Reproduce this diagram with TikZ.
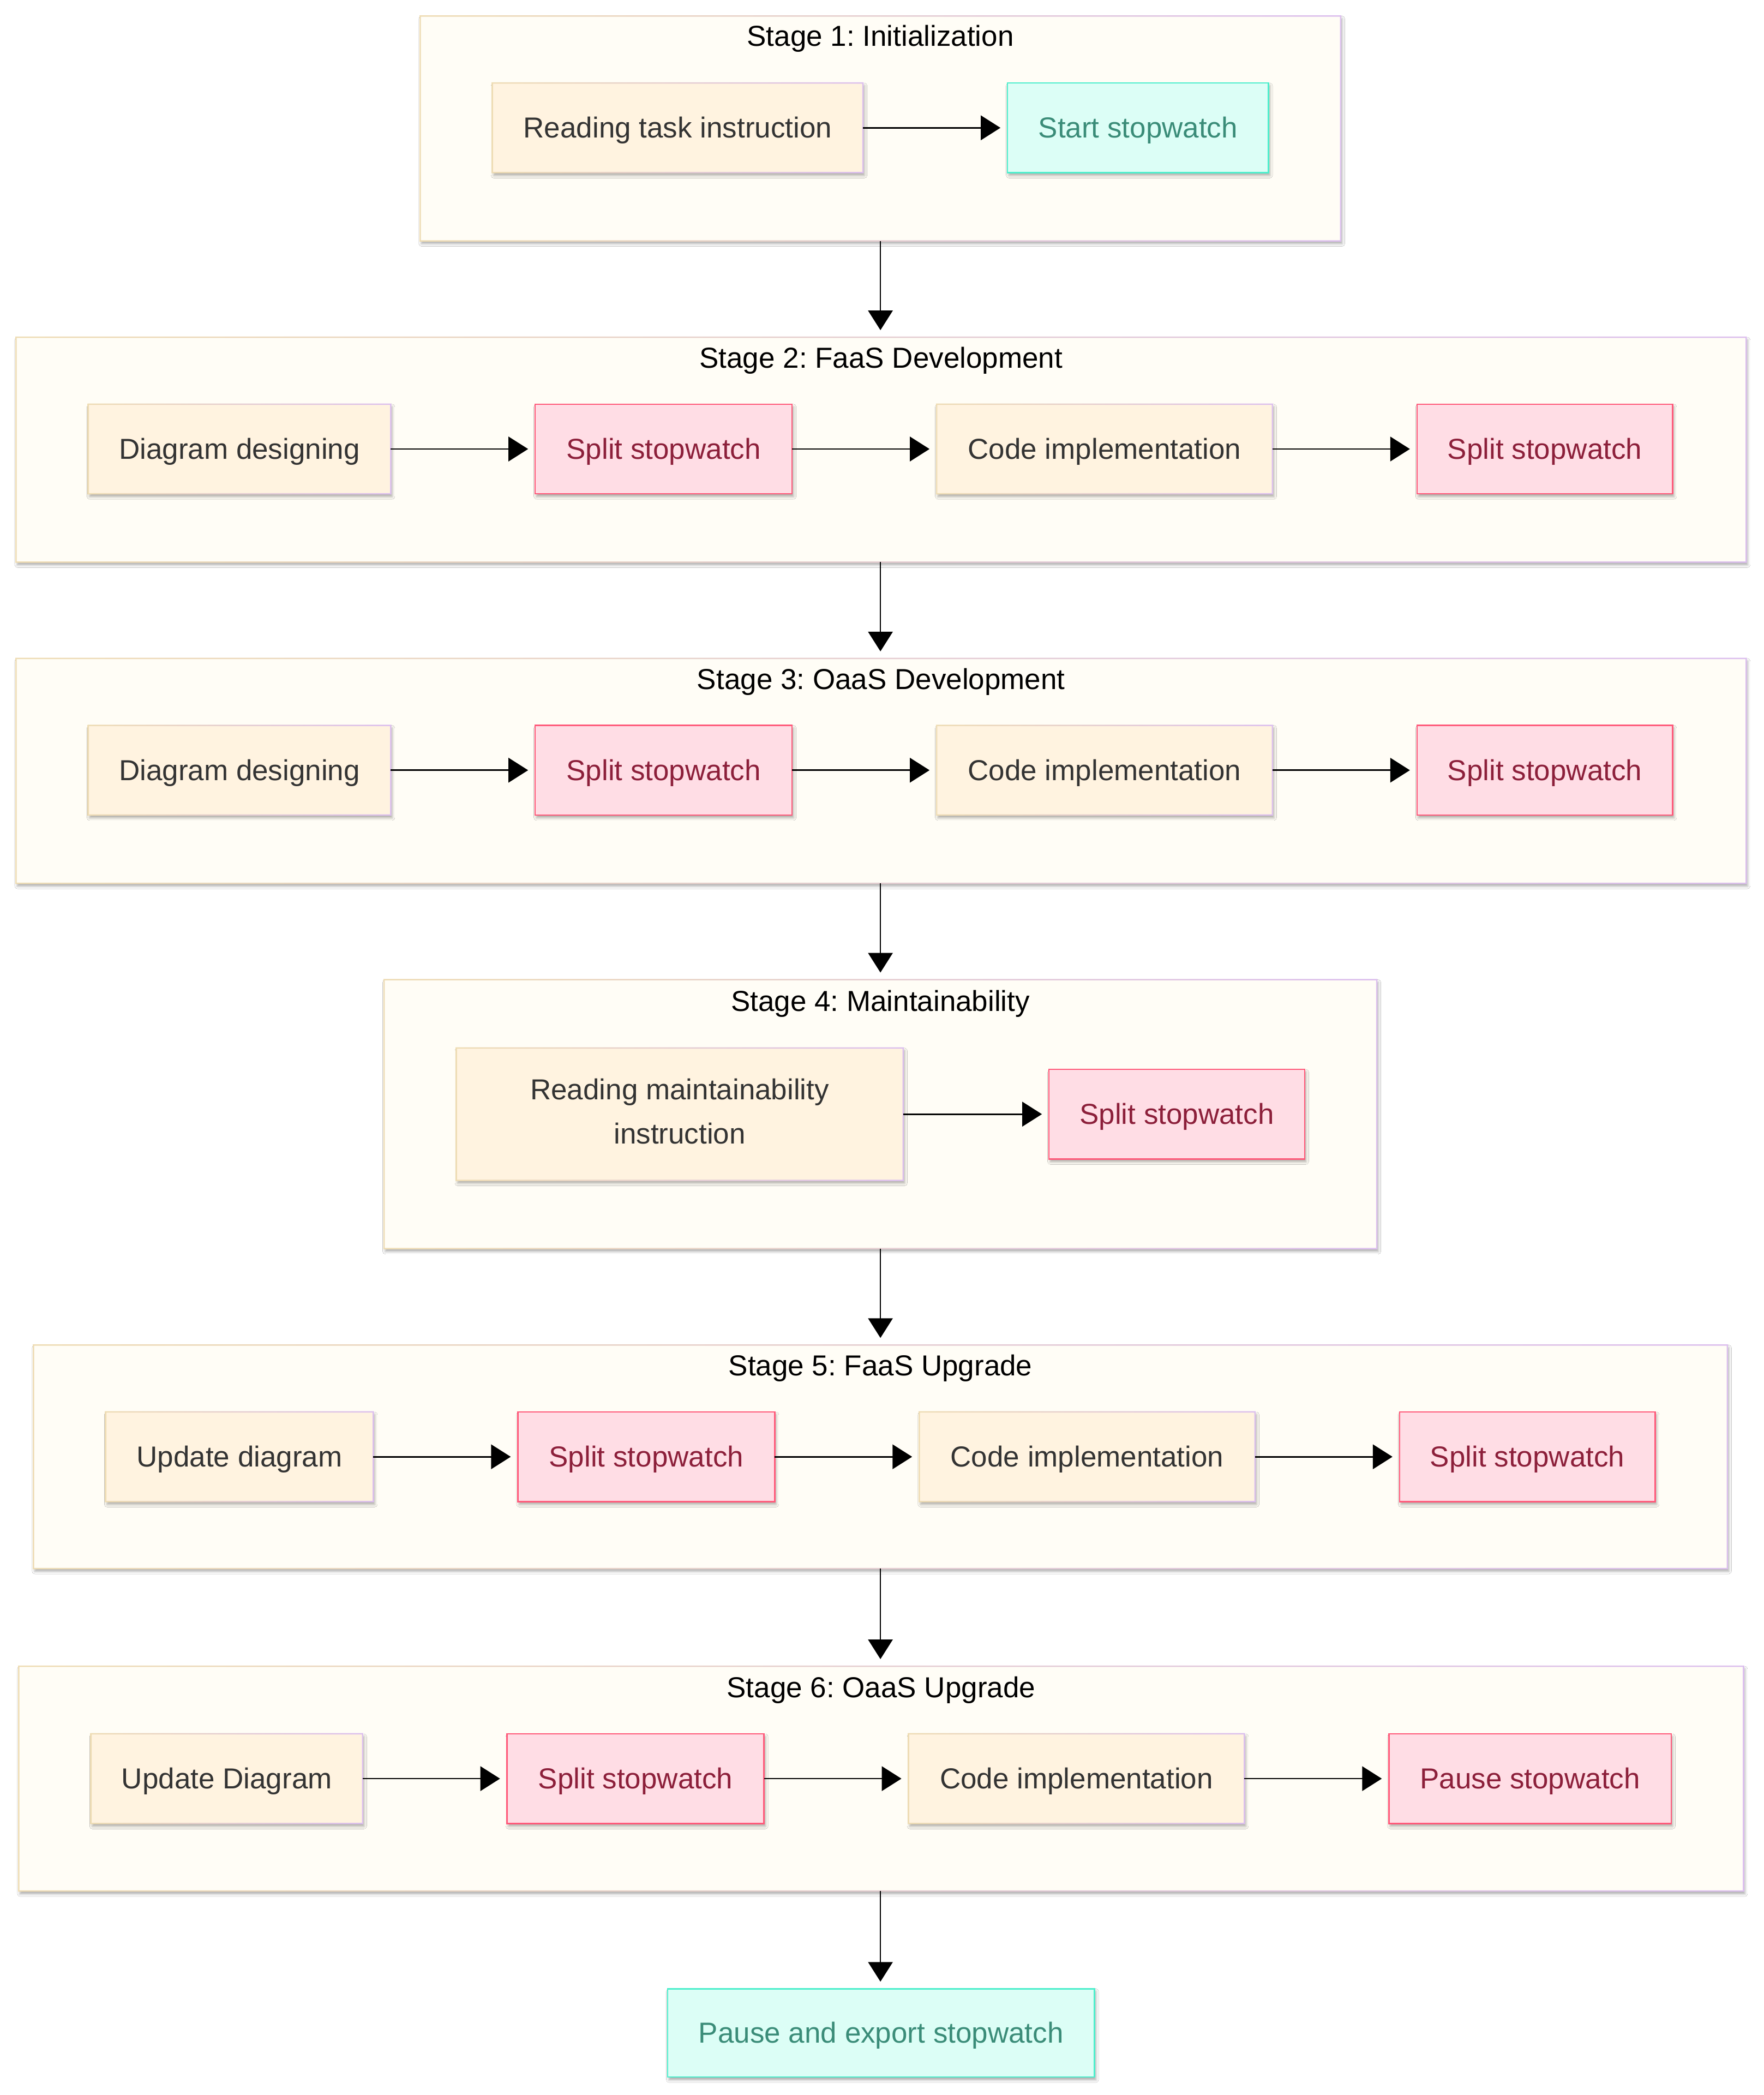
\documentclass[tikz,border=0pt]{standalone}
\usepackage{fontspec}
\setmainfont{Liberation Sans}
\frenchspacing
\usetikzlibrary{arrows.meta,shadows.blur}
\definecolor{stagefill}{HTML}{FFFDF6}
\definecolor{tanb}{HTML}{EEDCB4}
\definecolor{lavb}{HTML}{DCBFEE}
\definecolor{beigefill}{HTML}{FFF3E0}
\definecolor{txt}{HTML}{333333}
\definecolor{pinkfill}{HTML}{FFDDE5}
\definecolor{pinkdraw}{HTML}{FF5A7A}
\definecolor{pinktxt}{HTML}{8C1F3A}
\definecolor{mintfill}{HTML}{DCFEF6}
\definecolor{mintdraw}{HTML}{4EEECC}
\definecolor{minttxt}{HTML}{3A8C78}
\newcommand{\gborder}[1]{%
  \shade[left color=tanb,right color=lavb,even odd rule]
    ([xshift=-1.25pt,yshift=-1.25pt]#1.south west) rectangle ([xshift=1.25pt,yshift=1.25pt]#1.north east)
    ([xshift=1.25pt,yshift=1.25pt]#1.south west) rectangle ([xshift=-1.25pt,yshift=-1.25pt]#1.north east);}
\tikzset{
  base/.style={rectangle, inner sep=0pt, outer sep=0pt,
    font=\fontsize{53pt}{81pt}\selectfont, align=center,
    blur shadow={shadow xshift=2.5pt, shadow yshift=-5pt, shadow blur radius=5pt, shadow opacity=34}},
  oneline/.style={text height=48pt, text depth=11.2pt},
  sz/.style 2 args={minimum width=#1*2.453pt, minimum height=#2*2.453pt},
  stagebox/.style={base, fill=stagefill},
  taskbox/.style={base, fill=beigefill, text=txt},
  splitbox/.style={base, oneline, fill=pinkfill, draw=pinkdraw, line width=2.5pt, text=pinktxt},
  mintbox/.style={base, oneline, fill=mintfill, draw=mintdraw, line width=2.5pt, text=minttxt},
  stagetitle/.style={font=\fontsize{53pt}{64pt}\selectfont, oneline, text=black, inner sep=0pt},
  flow/.style={line width=2.7pt, -{Triangle[length=36pt,width=45pt]}, shorten >=13pt},
}
\begin{document}
\begin{tikzpicture}[x=2.453pt,y=-2.453pt]
\fill[white] (0,0) rectangle (1318,1565.4);
\useasboundingbox (0,0) rectangle (1318,1565.4);

% Stage boxes
\node[stagebox, sz={688}{168}] (st1) at (658,96) {};
\gborder{st1}
\node[stagebox, sz={1293}{168}] (st2) at (658.5,336) {};
\gborder{st2}
\node[stagebox, sz={1293}{168}] (st3) at (658.5,576) {};
\gborder{st3}
\node[stagebox, sz={742}{201}] (st4) at (658,832.5) {};
\gborder{st4}
\node[stagebox, sz={1266}{167}] (st5) at (658,1088.5) {};
\gborder{st5}
\node[stagebox, sz={1289}{168}] (st6) at (658.5,1329) {};
\gborder{st6}

% Titles
\node[stagetitle] (t1) at (658,27) {Stage 1: Initialization};
\node[stagetitle] (t2) at (658.5,267.5) {Stage 2: FaaS Development};
\node[stagetitle] (t3) at (658.5,507.5) {Stage 3: OaaS Development};
\node[stagetitle] (t4) at (658,748) {Stage 4: Maintainability};
\node[stagetitle] (t5) at (658,1020.5) {Stage 5: FaaS Upgrade};
\node[stagetitle] (t6) at (658.5,1261) {Stage 6: OaaS Upgrade};

% Stage 1
\node[taskbox, oneline, sz={277}{67}] (a1) at (506.5,95.5) {Reading task instruction};
\gborder{a1}
\node[mintbox, sz={195}{67}] (a2) at (850.5,95.5) {Start stopwatch};

% Stage 2
\node[taskbox, oneline, sz={226}{67}] (b1) at (179,335.5) {Diagram designing};
\gborder{b1}
\node[splitbox, sz={192}{67}] (b2) at (496,335.5) {Split stopwatch};
\node[taskbox, oneline, sz={251}{67}] (b3) at (825.5,335.5) {Code implementation};
\gborder{b3}
\node[splitbox, sz={191}{67}] (b4) at (1154.5,335.5) {Split stopwatch};

% Stage 3
\node[taskbox, oneline, sz={226}{67}] (c1) at (179,575.5) {Diagram designing};
\gborder{c1}
\node[splitbox, sz={192}{67}] (c2) at (496,575.5) {Split stopwatch};
\node[taskbox, oneline, sz={251}{67}] (c3) at (825.5,575.5) {Code implementation};
\gborder{c3}
\node[splitbox, sz={191}{67}] (c4) at (1154.5,575.5) {Split stopwatch};

% Stage 4
\node[taskbox, sz={334}{99}] (d1) at (508,832.5) {Reading maintainability\\instruction\rule[-10pt]{0pt}{0pt}};
\gborder{d1}
\node[splitbox, sz={191}{67}] (d2) at (879.5,832.5) {Split stopwatch};

% Stage 5
\node[taskbox, oneline, sz={200}{67}] (e1) at (179,1088.5) {Update diagram};
\gborder{e1}
\node[splitbox, sz={192}{67}] (e2) at (483,1088.5) {Split stopwatch};
\node[taskbox, oneline, sz={251}{67}] (e3) at (812.5,1088.5) {Code implementation};
\gborder{e3}
\node[splitbox, sz={191}{67}] (e4) at (1141.5,1088.5) {Split stopwatch};

% Stage 6
\node[taskbox, oneline, sz={203}{67}] (f1) at (169.5,1329) {Update Diagram};
\gborder{f1}
\node[splitbox, sz={192}{67}] (f2) at (475,1329) {Split stopwatch};
\node[taskbox, oneline, sz={251}{67}] (f3) at (804.5,1329) {Code implementation};
\gborder{f3}
\node[splitbox, sz={211}{67}] (f4) at (1143.5,1329) {Pause stopwatch};

% Final
\node[mintbox, sz={319}{66}] (g1) at (658.5,1519) {Pause and export stopwatch};

% Horizontal flows
\draw[flow] (a1.east) -- (a2.west);
\draw[flow] (b1.east) -- (b2.west);
\draw[flow] (b2.east) -- (b3.west);
\draw[flow] (b3.east) -- (b4.west);
\draw[flow] (c1.east) -- (c2.west);
\draw[flow] (c2.east) -- (c3.west);
\draw[flow] (c3.east) -- (c4.west);
\draw[flow] (d1.east) -- (d2.west);
\draw[flow] (e1.east) -- (e2.west);
\draw[flow] (e2.east) -- (e3.west);
\draw[flow] (e3.east) -- (e4.west);
\draw[flow] (f1.east) -- (f2.west);
\draw[flow] (f2.east) -- (f3.west);
\draw[flow] (f3.east) -- (f4.west);

% Vertical flows
\draw[flow] (st1.south) -- (st1.south |- st2.north);
\draw[flow] (st2.south -| st1.south) -- (st1.south |- st3.north);
\draw[flow] (st3.south -| st1.south) -- (st1.south |- st4.north);
\draw[flow] (st4.south -| st1.south) -- (st1.south |- st5.north);
\draw[flow] (st5.south -| st1.south) -- (st1.south |- st6.north);
\draw[flow] (st6.south -| st1.south) -- (st1.south |- g1.north);
\end{tikzpicture}
\end{document}
